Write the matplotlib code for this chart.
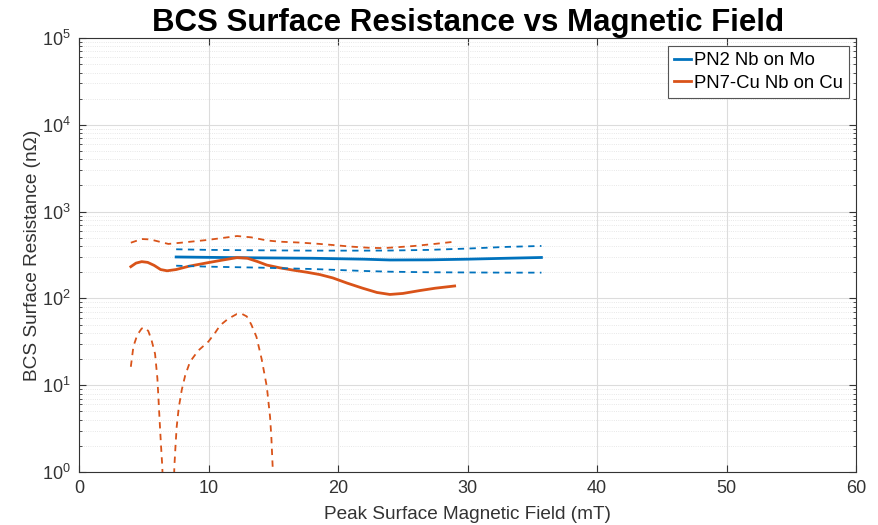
import numpy as np
import matplotlib
matplotlib.use('Agg')
import matplotlib.pyplot as plt

plt.rcParams['font.family'] = ['Liberation Sans', 'DejaVu Sans']

# PN2 Nb on Mo
b_pn2 = [7.5, 10, 14, 18, 22, 24, 27, 30, 33, 35.7]
rs_pn2 = [300, 297, 293, 290, 283, 277, 278, 283, 290, 296]
rs_pn2_hi = [368, 362, 358, 355, 355, 356, 362, 375, 392, 402]
rs_pn2_lo = [238, 232, 226, 218, 207, 203, 200, 199, 198, 198]

# PN7-Cu Nb on Cu
b_pn7 = [4.0, 4.4, 4.84, 5.3, 5.8, 6.3, 6.8, 7.5, 8.5, 9.9, 11.0, 12.2,
         13.0, 13.8, 14.5, 15.5, 16.5, 17.6, 18.6, 19.6, 20.7, 21.9, 23.0,
         24.0, 25.0, 26.3, 27.5, 29.0]
rs_pn7 = [232, 255, 265, 260, 240, 215, 208, 215, 235, 257, 275, 295,
          290, 265, 242, 225, 212, 200, 188, 172, 150, 131, 117,
          111, 114, 123, 131, 139]
b_pn7_hi = [4.0, 4.84, 5.5, 6.2, 6.9, 8.0, 9.9, 11.0, 12.2, 13.3, 14.5,
            15.5, 17.0, 18.5, 19.6, 21.0, 22.5, 23.5, 24.5, 25.9, 27.5, 29.0]
rs_pn7_hi = [438, 483, 478, 450, 424, 440, 471, 495, 523, 505, 465,
             450, 440, 425, 412, 395, 382, 380, 388, 402, 425, 450]
# lower bound drops to <= 0 between the two lobes
b_pn7_lo = [4.0, 4.2, 4.5, 4.84, 5.1, 5.35, 5.6, 5.87, 6.05, 6.25, 6.35,
            6.43, 6.5, np.nan,
            7.3, 7.36, 7.45, 7.54, 7.7, 7.93, 8.2, 8.57, 9.2, 9.99, 10.5,
            10.9, 11.5, 12.18, 12.6, 12.95, 13.3, 13.7, 14.1, 14.5, 14.75,
            14.85, 14.95, 15.0]
rs_pn7_lo = [16.3, 28, 38, 45, 46, 42, 33, 23, 12, 3.3, 1.8,
             1.15, 0.5, np.nan,
             0.5, 1.15, 2.0, 3.3, 5.5, 8.8, 13, 18.6, 25, 31.8, 40,
             49, 58, 66, 66, 62, 50, 36, 20, 9.6, 4.3,
             2.5, 1.15, 0.5]

blue = '#0072BD'
orange = '#D95319'
dash = (0, (3.5, 3))

fig = plt.figure(figsize=(8.79, 5.25), dpi=100)
ax = fig.add_axes([0.0899, 0.101, 0.8841, 0.8266])

ax.plot(b_pn2, rs_pn2, color=blue, lw=2, label='PN2 Nb on Mo')
ax.plot(b_pn7, rs_pn7, color=orange, lw=2, label='PN7-Cu Nb on Cu')
ax.plot(b_pn2, rs_pn2_hi, color=blue, lw=1.3, ls=dash)
ax.plot(b_pn2, rs_pn2_lo, color=blue, lw=1.3, ls=dash)
ax.plot(b_pn7_hi, rs_pn7_hi, color=orange, lw=1.3, ls=dash)
ax.plot(b_pn7_lo, rs_pn7_lo, color=orange, lw=1.3, ls=dash)

ax.set_yscale('log')
ax.set_xlim(0, 60)
ax.set_ylim(1, 1e5)
ax.set_xticks(range(0, 61, 10))

ax.grid(True, which='major', color='#dcdcdc', lw=0.8)
ax.grid(True, which='minor', axis='y', color='#e0e0e0', lw=0.6, ls=':')
ax.set_axisbelow(True)
ax.tick_params(which='both', direction='in', top=True, right=True,
               labelsize=13, colors='#333333', pad=6)
ax.tick_params(which='major', length=5)
ax.tick_params(which='minor', length=2.5)
for s in ax.spines.values():
    s.set_color('#333333')
    s.set_linewidth(0.8)

ax.set_xlabel('Peak Surface Magnetic Field (mT)', fontsize=13.7,
              color='#333333', labelpad=6)
ax.set_ylabel('BCS Surface Resistance (nΩ)', fontsize=13.7,
              color='#333333', labelpad=1)
ax.set_title('BCS Surface Resistance vs Magnetic Field', fontsize=22.5,
             fontweight='bold', pad=2)

leg = ax.legend(loc='upper right', bbox_to_anchor=(0.991, 0.982),
                borderaxespad=0, fontsize=13.3, handlelength=0.9,
                handletextpad=0.15, borderpad=0.35, labelspacing=0.3,
                fancybox=False, framealpha=1, edgecolor='#555555')
leg.get_frame().set_linewidth(0.8)

plt.savefig('out.png', dpi=100)
